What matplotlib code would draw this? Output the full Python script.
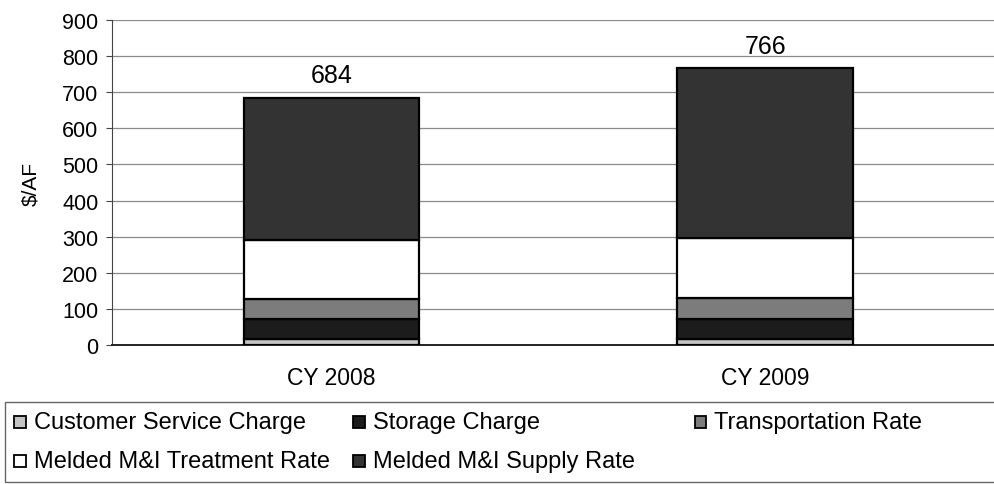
import numpy as np
import matplotlib.pyplot as plt
from matplotlib.patches import Rectangle

plt.rcParams['font.family'] = ['Liberation Sans', 'DejaVu Sans']

# Rate components in $/AF
years = ['CY 2008', 'CY 2009']
customer = [18, 17]
storage = [55, 54]
transport = [55, 59]
treatment = [163, 166]
supply = [393, 470]
totals = [684, 766]

series = [('Customer Service Charge', customer, '#c4c4c4'),
          ('Storage Charge', storage, '#1c1c1c'),
          ('Transportation Rate', transport, '#7c7c7c'),
          ('Melded M&I Treatment Rate', treatment, '#ffffff'),
          ('Melded M&I Supply Rate', supply, '#333333')]

fig = plt.figure(figsize = (9.95, 4.85), dpi = 100)
ax = fig.add_axes([0.113, 0.2866, 0.887, 0.670])

x = np.arange(len(years))
bottom = np.zeros(len(years))
for name, vals, col in series:
    ax.bar(x, vals, 0.405, bottom = bottom, color = col,
           edgecolor = 'black', linewidth = 1.6, label = name, zorder = 3)
    bottom += np.array(vals)

for xi, t in zip(x, totals):
    ax.text(xi, t + 44, str(t), ha = 'center', va = 'baseline', fontsize = 18)

ax.set_xlim(-0.505, 1.53)
ax.set_ylim(0, 900)
ax.set_yticks(np.arange(0, 901, 100))
ax.yaxis.grid(True, color = '#8a8a8a', linewidth = 0.9, zorder = 0)
ax.set_axisbelow(True)
ax.set_xticks(x)
ax.set_xticklabels(years)
ax.tick_params(axis = 'y', labelsize = 15.5, length = 4, width = 0.8,
               colors = '#444444', labelcolor = 'black', pad = 6)
ax.tick_params(axis = 'x', labelsize = 16.5, length = 0, pad = 15)
for s in ['top', 'right']:
    ax.spines[s].set_visible(False)
ax.spines['left'].set_color('#444444')
ax.spines['bottom'].set_color('#222222')
ax.spines['bottom'].set_linewidth(1.4)
ax.set_ylabel('$/AF', fontsize = 15, labelpad = 16)

# Legend box laid out in fixed cells, three per row (Excel style)
fig.patches.append(Rectangle((0.005, 0.004), 1.2, 0.165, transform = fig.transFigure,
                             facecolor = 'none', edgecolor = '#666666',
                             linewidth = 1.0))
col_x = [0.014, 0.355, 0.698]
row_y = [0.128, 0.048]
hw, hh = 0.012, 0.025
for i, (name, vals, col) in enumerate(series):
    cx = col_x[i % 3]
    cy = row_y[i // 3]
    fig.patches.append(Rectangle((cx, cy - hh / 2), hw, hh, transform = fig.transFigure,
                                 facecolor = col, edgecolor = 'black', linewidth = 1.3))
    fig.text(cx + hw + 0.008, cy, name, fontsize = 17, va = 'center', ha = 'left')

plt.savefig('out.png', dpi = 100)
